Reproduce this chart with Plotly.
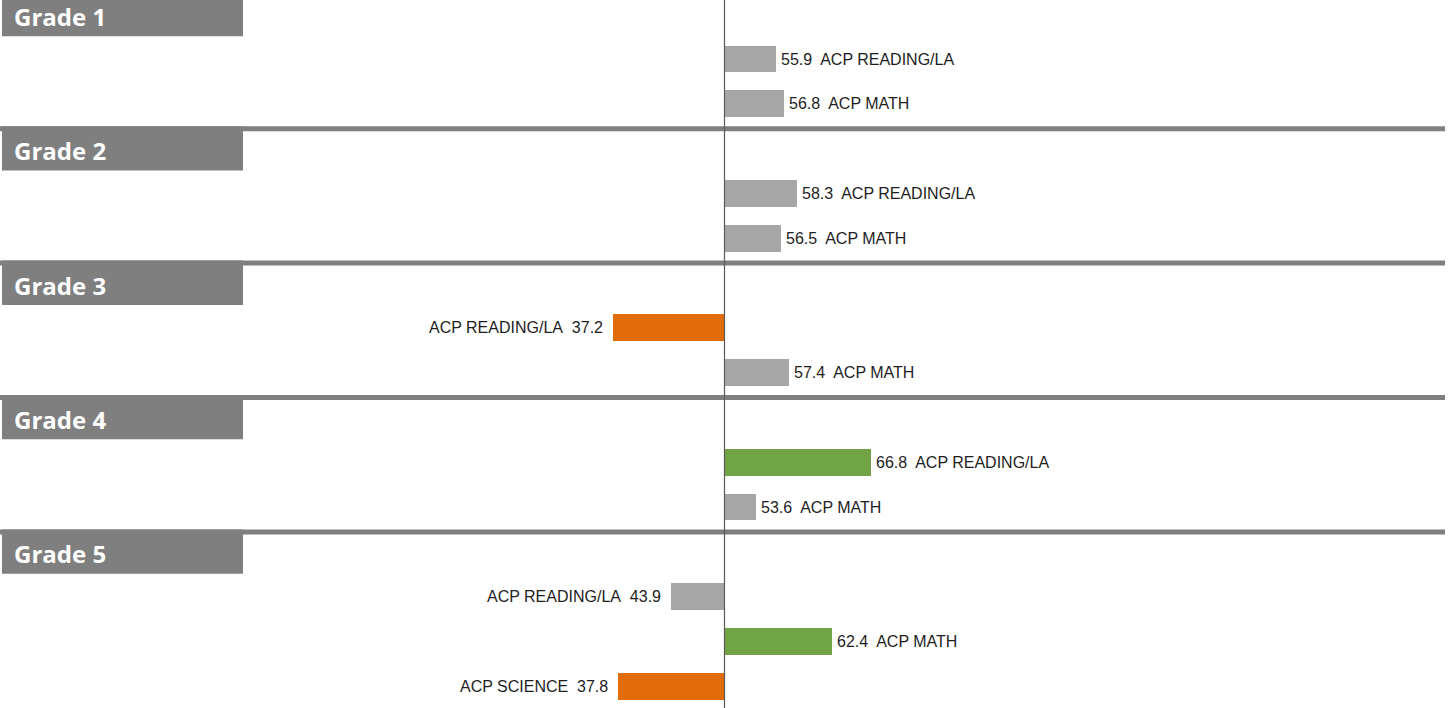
import plotly.graph_objects as go

# ---- data -------------------------------------------------------------
grades = ["Grade 1", "Grade 2", "Grade 3", "Grade 4", "Grade 5"]
bar_grade = ["Grade 1", "Grade 1", "Grade 2", "Grade 2", "Grade 3", "Grade 3",
             "Grade 4", "Grade 4", "Grade 5", "Grade 5", "Grade 5"]
bar_subject = ["ACP READING/LA", "ACP MATH", "ACP READING/LA", "ACP MATH",
               "ACP READING/LA", "ACP MATH", "ACP READING/LA", "ACP MATH",
               "ACP READING/LA", "ACP MATH", "ACP SCIENCE"]
bar_value = [55.9, 56.8, 58.3, 56.5, 37.2, 57.4, 66.8, 53.6, 43.9, 62.4, 37.8]

MIDPOINT = 50
HIGH, LOW = 60, 40
GRAY, ORANGE, GREEN = "#A6A6A6", "#E36C0A", "#70A445"
BAND = "#7F7F7F"

W, H = 1454, 708

# ---- row layout: one header row per grade, then its bars ----------------
header_rows = {}
bar_rows = []
row = 0
for g in grades:
    header_rows[g] = row
    row += 1
    for i, bg in enumerate(bar_grade):
        if bg == g:
            bar_rows.append((i, row))
            row += 1
bar_rows.sort()
ys = [r for _, r in bar_rows]


def colour(v):
    if v >= HIGH:
        return GREEN
    if v <= LOW:
        return ORANGE
    return GRAY


colors = [colour(v) for v in bar_value]

fig = go.Figure()
fig.add_trace(go.Bar(
    orientation="h",
    y=ys,
    x=[v - MIDPOINT for v in bar_value],
    base=MIDPOINT,
    marker=dict(color=colors, line=dict(width=0)),
    width=0.6,
    hoverinfo="skip",
))

annotations = []
label_font = dict(family="Liberation Sans, Arial, sans-serif", size=16, color="#1E1E1E")
for v, s, y in zip(bar_value, bar_subject, ys):
    if v >= MIDPOINT:
        annotations.append(dict(x=v, y=y, xref="x", yref="y", showarrow=False,
                                text=f"{v:.1f}\u00a0 {s}", xanchor="left",
                                xshift=3, font=label_font))
    else:
        annotations.append(dict(x=v, y=y, xref="x", yref="y", showarrow=False,
                                text=f"{s}\u00a0 {v:.1f}", xanchor="right",
                                xshift=-8, font=label_font))

shapes = []
for g in grades:
    r = header_rows[g]
    shapes.append(dict(type="rect", xref="paper", yref="y",
                       x0=2 / W, x1=243 / W, y0=r - 0.5, y1=r + 0.49,
                       fillcolor=BAND, line=dict(width=0), layer="below"))
    if r > 0:
        shapes.append(dict(type="rect", xref="paper", yref="y",
                           x0=0, x1=1445 / W, y0=r - 0.5, y1=r - 0.5 + 5 / 44.8,
                           fillcolor=BAND, line=dict(width=0), layer="below"))
    annotations.append(dict(x=12 / W, y=r, xref="paper", yref="y", showarrow=False,
                            text=g, xanchor="left", yanchor="middle", yshift=-2,
                            font=dict(family="Open Sans, sans-serif", size=24,
                                      color="white", weight="bold")))

shapes.append(dict(type="line", xref="x", yref="paper", x0=MIDPOINT, x1=MIDPOINT,
                   y0=0, y1=1, line=dict(color="#595959", width=1.2), layer="above"))

px_per_unit = 8.7
x0 = MIDPOINT - 724.5 / px_per_unit
x1 = x0 + W / px_per_unit
pitch = 44.8
y_top = -14.2 / pitch
y_bot = y_top + H / pitch

fig.update_layout(
    width=W, height=H,
    margin=dict(l=0, r=0, t=0, b=0),
    paper_bgcolor="white", plot_bgcolor="white",
    showlegend=False,
    xaxis=dict(range=[x0, x1], visible=False, fixedrange=True),
    yaxis=dict(range=[y_bot, y_top], visible=False, fixedrange=True),
    shapes=shapes,
    annotations=annotations,
    bargap=0,
)

fig.write_html("out.html", config={"displayModeBar": False})
